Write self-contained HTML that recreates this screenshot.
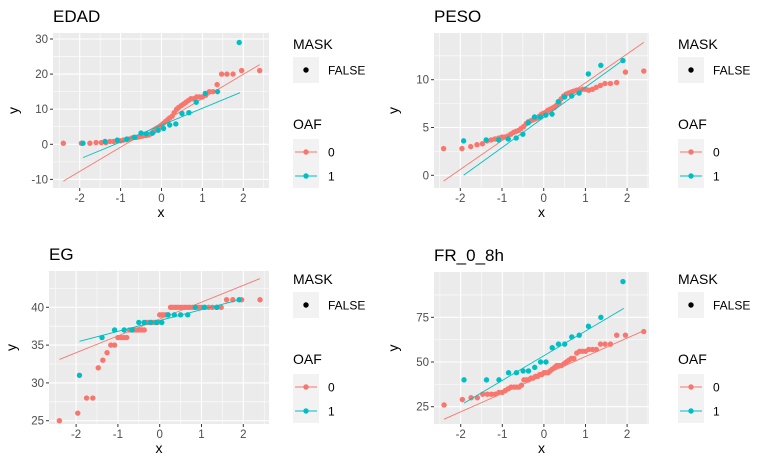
<!DOCTYPE html>
<html><head><meta charset="utf-8"><style>
body{margin:0;background:#fff;}
svg{display:block;font-family:"Liberation Sans",sans-serif;}
</style></head><body>
<svg id="c" width="770" height="475" xmlns="http://www.w3.org/2000/svg"></svg>
<script>
const x0 = [-2.4,-1.96,-1.75,-1.6,-1.47,-1.36,-1.26,-1.17,-1.08,-1.0,-0.93,-0.86,-0.79,-0.72,-0.66,-0.6,-0.54,-0.48,-0.42,-0.37,-0.31,-0.26,-0.2,-0.15,-0.1,-0.05,0,0.05,0.1,0.15,0.2,0.26,0.31,0.37,0.42,0.48,0.54,0.6,0.66,0.72,0.79,0.86,0.93,1.0,1.08,1.17,1.26,1.36,1.47,1.6,1.75,1.96,2.4];
const x1 = [-1.92,-1.38,-1.08,-0.85,-0.66,-0.5,-0.37,-0.22,-0.08,0.05,0.2,0.35,0.5,0.67,0.85,1.07,1.37,1.9];
const edad0 = [0.3,0.3,0.3,0.5,0.5,0.5,0.8,0.8,1,1,1.2,1.3,1.5,1.8,2,2,2.2,2.3,2.5,2.5,2.7,3,3.5,4,4.5,5,5.5,6,6.5,7,7.5,8,9,10,10.5,11,11.5,12,12.5,13,13,13.5,13.5,13.5,14,15,15,17,20,20,20,21,21];
const edad1 = [0.3,0.8,1.2,1.5,2,3.2,3,3.2,4,4.5,5.5,5.8,8.8,9,12,14.5,15,29];
const peso0 = [2.8,2.8,3.0,3.2,3.3,3.6,3.7,3.8,3.9,4,4,4.1,4.3,4.5,4.6,4.7,4.9,5.1,5.4,5.6,5.7,5.8,5.9,6,6.2,6.4,6.5,6.6,6.8,6.9,7.0,7.1,7.3,7.6,8.0,8.3,8.5,8.6,8.7,8.8,8.9,8.9,9,9,8.9,9,9.2,9.4,9.6,9.6,9.7,10.8,10.9];
const peso1 = [3.6,3.7,3.7,3.8,3.9,4.3,5.5,6.1,6.1,6.3,6.4,7.7,8.2,8.3,8.6,10.6,11.5,12];
const eg0 = [25,26,28,28,32,33,34,35,35,36,36,36,36,37,37,37,37,37,37,37,38,38,38,38,38,38,39,39,39,39,39,40,40,40,40,40,40,40,40,40,40,40,40,40,40,40,40,40,40,41,41,41,41];
const eg1 = [31,36,37,37,37,38,38,38,38,38,39,39,39,39,40,40,40,41];
const fr0 = [26,29,30,30,32,32,32,32,33,33,34,35,36,36,36,36,37,40,40,40,41,41,42,42,43,43,44,44,44,45,46,47,48,48,48,49,50,51,52,52,55,56,56,56,57,57,57,60,60,60,65,65,67];
const fr1 = [40,40,40,44,44,45,45,47,50,50,58,60,60,64,65,70,75,95];
const edadLine0 = [-2.4,-10.5,2.4,22.7], edadLine1 = [-1.92,-3.8,1.92,14.7];
const pesoLine0 = [-2.4,-0.6,2.4,13.9], pesoLine1 = [-1.92,0,1.92,12.1];
const egLine0 = [-2.4,33.1,2.4,43.8], egLine1 = [-1.92,35.5,1.92,41];
const frLine0 = [-2.4,18,2.4,67.5], frLine1 = [-1.92,27,1.92,80];
const xTicks = [-2,-1,0,1,2];
const edadTicks = [-10,0,10,20,30], pesoTicks = [0,5,10], egTicks = [25,30,35,40], frTicks = [25,50,75];

const NS = "http://www.w3.org/2000/svg";
const svg = document.getElementById('c');
function el(tag, attrs, parent){const e=document.createElementNS(NS,tag);for(const k in attrs)e.setAttribute(k,attrs[k]);(parent||svg).appendChild(e);return e;}
const RED="#F8766D", BLUE="#00BFC4";
const PR=2.7;

function panel(cfg){
  const g = el('g',{});
  
  
  const L=cfg.l,T=cfg.t,R=cfg.r,B=cfg.b;
  const sx = v => cfg.xo + v*cfg.xs;
  const sy = v => cfg.yo + (v-cfg.yref)*cfg.ys;
  const t = el('text',{x:L,y:T-11,'font-size':17,fill:'#000'},g); t.textContent=cfg.title;
  
  
  el('rect',{x:L,y:T,width:R-L,height:B-T,fill:'#EBEBEB'},g);
  for(let i=0;i<cfg.ticks.length+1;i++){
    const step=cfg.ticks[1]-cfg.ticks[0];
    const v=cfg.ticks[0]-step/2+i*step; const p=sy(v);
    if(p>T&&p<B) el('line',{x1:L,x2:R,y1:p,y2:p,stroke:'#fff','stroke-width':0.55},g);
  }
  for(let v=-2.5;v<=2.5;v+=1){const p=sx(v); if(p>L&&p<R) el('line',{x1:p,x2:p,y1:T,y2:B,stroke:'#fff','stroke-width':0.55},g);}
  cfg.ticks.forEach(v=>{const p=sy(v);
    el('line',{x1:L,x2:R,y1:p,y2:p,stroke:'#fff','stroke-width':1.1},g);
    el('line',{x1:L-3,x2:L,y1:p,y2:p,stroke:'#333','stroke-width':1},g);
    const tx=el('text',{x:L-5,y:p+4,'font-size':11.5,fill:'#4D4D4D','text-anchor':'end'},g); tx.textContent=v;
    
    
  });
  xTicks.forEach(v=>{const p=sx(v);
    el('line',{x1:p,x2:p,y1:T,y2:B,stroke:'#fff','stroke-width':1.1},g);
    el('line',{x1:p,x2:p,y1:B,y2:B+3,stroke:'#333','stroke-width':1},g);
    const tx=el('text',{x:p,y:B+14,'font-size':11.5,fill:'#4D4D4D','text-anchor':'middle'},g); tx.textContent=v;
    
    
  });
  const xl=el('text',{x:(L+R)/2,y:B+29,'font-size':14,fill:'#000','text-anchor':'middle'},g); xl.textContent='x';
  
  
  const yx=L-cfg.ylab, yy=(T+B)/2;
  const yl=el('text',{x:yx,y:yy,'font-size':14,fill:'#000','text-anchor':'middle',transform:`rotate(-90 ${yx} ${yy})`},g); yl.textContent='y';
  
  
  [[cfg.y0,x0,RED,cfg.l0,'oaf0'],[cfg.y1,x1,BLUE,cfg.l1,'oaf1']].forEach(([ys,xs,col,ln,nm])=>{
    ys.forEach((v,i)=>{const c=el('circle',{cx:sx(xs[i]),cy:sy(v),r:PR,fill:col},g);
      
      });
    const l=el('line',{x1:sx(ln[0]),y1:sy(ln[1]),x2:sx(ln[2]),y2:sy(ln[3]),stroke:col,'stroke-width':0.9},g);
    
    
  });
  const lx=cfg.lx, ly=cfg.ly;
  const lg=el('g',{},g);
  
  
  let tt=el('text',{x:lx,y:ly+24,'font-size':14,fill:'#000'},lg); tt.textContent='MASK';
  el('rect',{x:lx,y:ly+32,width:26,height:26,fill:'#F2F2F2'},lg);
  el('circle',{cx:lx+13,cy:ly+45,r:PR,fill:'#000'},lg);
  tt=el('text',{x:lx+35,y:ly+49.5,'font-size':12,fill:'#000'},lg); tt.textContent='FALSE';
  tt=el('text',{x:lx,y:ly+104,'font-size':14,fill:'#000'},lg); tt.textContent='OAF';
  el('rect',{x:lx,y:ly+114,width:26,height:49,fill:'#F2F2F2'},lg);
  [[RED,'0',ly+127],[BLUE,'1',ly+151]].forEach(([c,lab,yy])=>{
    el('line',{x1:lx+2,x2:lx+24,y1:yy,y2:yy,stroke:c,'stroke-width':1},lg);
    el('circle',{cx:lx+13,cy:yy,r:PR,fill:c},lg);
    const t2=el('text',{x:lx+35,y:yy+4.5,'font-size':12,fill:'#000'},lg); t2.textContent=lab;
    
    
  });
}
panel({key:'edad',title:'EDAD',l:53,t:33,r:269,b:188,xo:161.5,xs:40.9,yo:144.3,yref:0,ys:-3.51,ticks:edadTicks,y0:edad0,y1:edad1,l0:edadLine0,l1:edadLine1,lx:293,ly:25,ylab:35});
panel({key:'peso',title:'PESO',l:434,t:33,r:649,b:188,xo:543.7,xs:41.7,yo:175.3,yref:0,ys:-9.56,ticks:pesoTicks,y0:peso0,y1:peso1,l0:pesoLine0,l1:pesoLine1,lx:678,ly:25,ylab:36});
panel({key:'eg',title:'EG',l:49,t:271,r:269,b:424,xo:159.7,xs:41.8,yo:307.3,yref:40,ys:-7.56,ticks:egTicks,y0:eg0,y1:eg1,l0:egLine0,l1:egLine1,lx:293,ly:260,ylab:33});
panel({key:'fr',title:'FR_0_8h',l:434,t:272,r:649,b:424,xo:543.9,xs:41.6,yo:317.3,yref:75,ys:-1.788,ticks:frTicks,y0:fr0,y1:fr1,l0:frLine0,l1:frLine1,lx:678,ly:260,ylab:36});
</script>
</body></html>
